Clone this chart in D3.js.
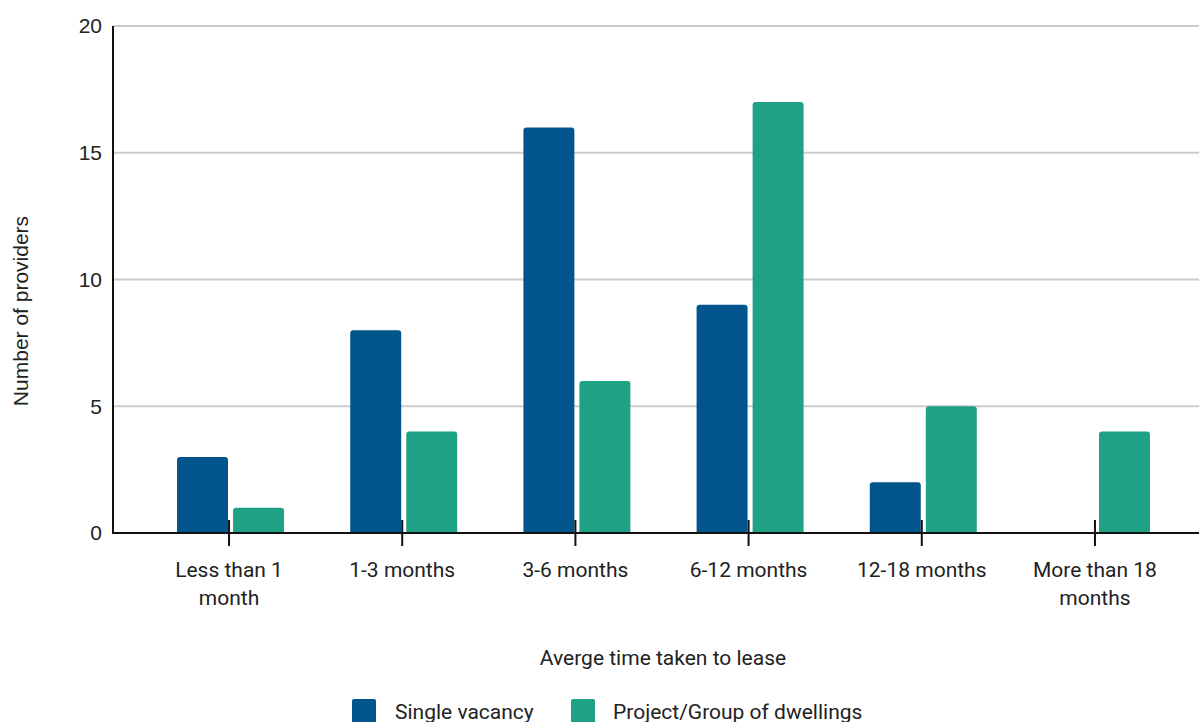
<!DOCTYPE html>
<html><head><meta charset="utf-8">
<script src="https://cdn.jsdelivr.net/npm/d3@7"></script>
<style>body{margin:0;background:#fff;overflow:hidden}svg{display:block;font-family:Roboto,sans-serif}</style>
</head><body><svg id="c" width="1199" height="722"></svg>
<script>
const categories = [["Less than 1","month"],["1-3 months"],["3-6 months"],["6-12 months"],["12-18 months"],["More than 18","months"]];
const seriesNames = ["Single vacancy","Project/Group of dwellings"];
const singleVacancy = [3,8,16,9,2,0];
const projectGroup = [1,4,6,17,5,4];
const yTicks = [0,5,10,15,20];
const colors = ["#02548c","#1ea185"];

(function(){
const svg = d3.select("#c");
const mLeft = 113, mTop = 26, mBottom = 533, W = 1199;
const keys = categories.map((c,i)=>i);
const x0 = d3.scaleBand().domain(keys).range([mLeft, 1211]).paddingInner(0).paddingOuter(0.17);
const x1 = d3.scaleBand().domain([0,1]).range([0,107]).paddingInner(0.09).paddingOuter(0);
const y = d3.scaleLinear().domain([0,20]).range([mBottom, mTop]);
const FS = 21;

// gridlines
svg.append("g").selectAll("line").data(yTicks.filter(t=>t>0)).join("line")
  .attr("x1",mLeft).attr("x2",W).attr("y1",d=>y(d)).attr("y2",d=>y(d))
  .attr("stroke","#cccccc").attr("stroke-width",2);

// y tick labels
svg.append("g").selectAll("text").data(yTicks).join("text")
  .attr("x",102).attr("y",d=>y(d)).attr("dy","0.35em").attr("text-anchor","end")
  .attr("font-family","'Liberation Sans',Arial,sans-serif")
  .attr("font-size",FS).attr("fill","#222").text(d=>d);

// bars
const series = [singleVacancy, projectGroup];
const r = 3;
function barPath(x, yTop, w, h){
  if(h<=0) return "";
  const rr = Math.min(r, h);
  return `M${x},${yTop+h}V${yTop+rr}Q${x},${yTop} ${x+rr},${yTop}H${x+w-rr}Q${x+w},${yTop} ${x+w},${yTop+rr}V${yTop+h}Z`;
}
series.forEach((vals, s)=>{
  svg.append("g").selectAll("path").data(vals).join("path")
    .attr("d",(v,i)=>{
      const cx = x0(i)+x0.bandwidth()/2;
      const gx = cx - 52 + x1(s);
      return barPath(gx, y(v), x1.bandwidth(), y(0)-y(v));
    })
    .attr("fill",colors[s]);
});

// axes lines
svg.append("line").attr("x1",mLeft).attr("x2",mLeft).attr("y1",mTop).attr("y2",mBottom+1)
  .attr("stroke","#111").attr("stroke-width",2);
svg.append("line").attr("x1",mLeft).attr("x2",W).attr("y1",mBottom).attr("y2",mBottom)
  .attr("stroke","#111").attr("stroke-width",2);
// category ticks
svg.append("g").selectAll("line").data(keys).join("line")
  .attr("x1",i=>x0(i)+x0.bandwidth()/2).attr("x2",i=>x0(i)+x0.bandwidth()/2)
  .attr("y1",520).attr("y2",546).attr("stroke","#111").attr("stroke-width",2);

// category labels
const lab = svg.append("g").selectAll("text").data(keys).join("text")
  .attr("x",i=>x0(i)+x0.bandwidth()/2).attr("y",577).attr("text-anchor","middle")
  .attr("font-size",FS).attr("fill","#222");
lab.each(function(i){
  const t = d3.select(this);
  categories[i].forEach((line,k)=>{
    t.append("tspan").attr("x",x0(i)+x0.bandwidth()/2).attr("dy",k===0?0:28).text(line);
  });
});

// axis titles
svg.append("text").attr("x",663).attr("y",665).attr("text-anchor","middle")
  .attr("font-size",FS).attr("fill","#222").text("Averge time taken to lease");
svg.append("text").attr("transform","translate(28,311) rotate(-90)").attr("text-anchor","middle")
  .attr("font-family","'Liberation Sans',Arial,sans-serif")
  .attr("font-size",FS).attr("fill","#222").text("Number of providers");

// legend
const legX = [352, 571], textX = [395, 613];
seriesNames.forEach((n,s)=>{
  svg.append("rect").attr("x",legX[s]).attr("y",699).attr("width",24).attr("height",26)
    .attr("rx",2).attr("fill",colors[s]);
  svg.append("text").attr("x",textX[s]).attr("y",719).attr("font-size",FS).attr("fill","#222").text(n);
});
})();
</script></body></html>
